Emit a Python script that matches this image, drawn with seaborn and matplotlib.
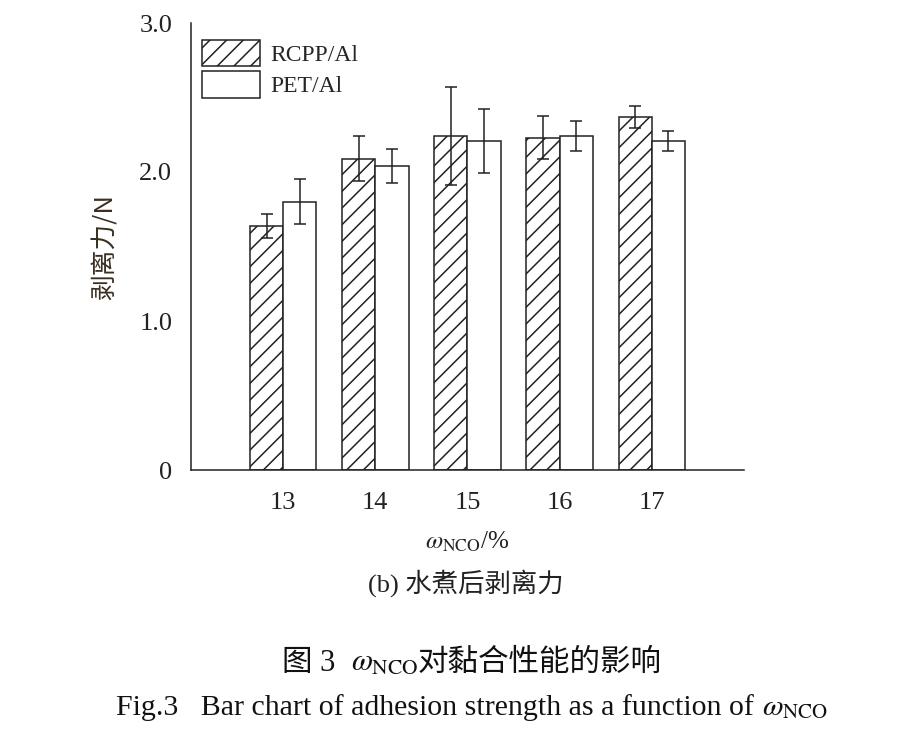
import matplotlib
matplotlib.use("Agg")
import matplotlib.pyplot as plt
import seaborn as sns
import pandas as pd
from matplotlib.patches import Patch

categories = ["13", "14", "15", "16", "17"]
series = ["RCPP/Al", "PET/Al"]
rcpp_vals = [1.64, 2.09, 2.24, 2.23, 2.37]
rcpp_err = [0.08, 0.15, 0.33, 0.145, 0.075]
pet_vals = [1.80, 2.04, 2.21, 2.24, 2.21]
pet_err = [0.15, 0.115, 0.215, 0.10, 0.067]
yticks = [0, 1.0, 2.0, 3.0]
ytick_labels = ["0", "1.0", "2.0", "3.0"]

sns.set_theme(style="white")
plt.rcParams["font.family"] = ["Liberation Serif", "Noto Sans CJK SC"]
plt.rcParams["mathtext.fontset"] = "stix"
plt.rcParams["hatch.linewidth"] = 1.1
plt.rcParams["hatch.color"] = "#222222"

INK = "#222222"

df = pd.DataFrame({
    "cat": categories * 2,
    "series": [series[0]] * len(categories) + [series[1]] * len(categories),
    "val": rcpp_vals + pet_vals,
})
errs = {series[0]: rcpp_err, series[1]: pet_err}

fig = plt.figure(figsize=(9.04, 7.42), dpi=100)
ax = fig.add_axes([191 / 904, 1 - 470 / 742, 553 / 904, 447 / 742])

sns.barplot(data=df, x="cat", y="val", hue="series", order=categories,
            hue_order=series, palette=["white", "white"], edgecolor=INK,
            linewidth=1.1, width=0.72, gap=0, errorbar=None, legend=False, ax=ax)

for cont, s in zip(ax.containers, series):
    xs, ys = [], []
    for bar in cont:
        if s == series[0]:
            bar.set_hatch("//")
        xs.append(bar.get_x() + bar.get_width() / 2)
        ys.append(bar.get_height())
    ax.errorbar(xs, ys, yerr=errs[s], fmt="none", ecolor=INK,
                elinewidth=1.1, capsize=4, capthick=1.1, zorder=5)

ax.set_xlim(-1, 5)
ax.set_ylim(0, 3.0)
ax.set_yticks(yticks)
ax.set_yticklabels(ytick_labels)
ax.set_xticks(range(len(categories)))
ax.set_xticklabels(categories)
ax.set_xticks([5], minor=True)
for sp in ["top", "right"]:
    ax.spines[sp].set_visible(False)
for sp in ["left", "bottom"]:
    ax.spines[sp].set_linewidth(1.1)
    ax.spines[sp].set_color(INK)
ax.tick_params(axis="y", direction="in", length=6, width=1.1, color=INK,
               labelsize=19, pad=13.5, labelcolor=INK)
ax.tick_params(axis="x", which="major", length=0, labelsize=19, pad=16,
               labelcolor=INK)
ax.tick_params(axis="x", which="minor", direction="in", length=5, width=1.1,
               color=INK)

ax.set_ylabel("剥离力/N", fontsize=18.5, color="#3a2e22", labelpad=15,
              family=["Noto Sans CJK SC", "Liberation Serif"])
ax.set_xlabel(r"$\omega_{\mathrm{NCO}}$/%", fontsize=18, color=INK, labelpad=11)

handles = [Patch(facecolor="white", edgecolor=INK, hatch="//", linewidth=1.1),
           Patch(facecolor="white", edgecolor=INK, linewidth=1.1)]
ax.legend(handles, series, loc="upper left", bbox_to_anchor=(0.02, 0.962),
          frameon=False, fontsize=17, handlelength=2.46, handleheight=1.35,
          labelspacing=0.2, handletextpad=0.45, borderpad=0, borderaxespad=0)


def draw_pieces(y, pieces, cx):
    renderer = fig.canvas.get_renderer()
    texts = []
    widths = []
    for s, kw in pieces:
        t = fig.text(0, y, s, ha="left", va="baseline", **kw)
        texts.append(t)
        widths.append(t.get_window_extent(renderer).width)
    x = cx * 904 - sum(widths) / 2
    for t, w in zip(texts, widths):
        t.set_x(x / 904)
        x += w


fig.text(466 / 904, 1 - 583 / 742, "(b) 水煮后剥离力", ha="center", va="center",
         fontsize=19, color=INK)

cap_kw = dict(fontsize=22, color="#111111")
draw_pieces(1 - 671 / 742, [("图 3  ", cap_kw),
                            (r"$\omega_{\mathrm{NCO}}$", cap_kw),
                            ("对黏合性能的影响", cap_kw)], cx=472 / 904)
en_kw = dict(fontsize=21.5, color="#111111")
draw_pieces(1 - 715 / 742, [("Fig.3   Bar chart of adhesion strength as a function of ", en_kw),
                            (r"$\omega_{\mathrm{NCO}}$", en_kw)], cx=472 / 904)

fig.savefig("out.png", dpi=100, facecolor="white")
